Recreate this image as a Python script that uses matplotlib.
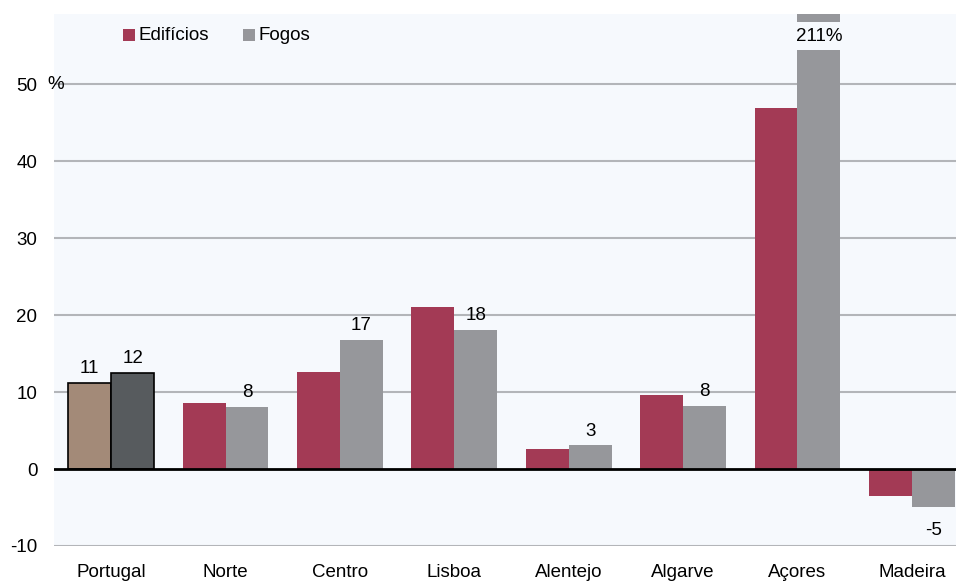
import matplotlib.pyplot as plt
import numpy as np
from matplotlib.patches import Rectangle

plt.rcParams['font.family'] = ['Liberation Sans', 'DejaVu Sans']

regions = ['Portugal', 'Norte', 'Centro', 'Lisboa', 'Alentejo', 'Algarve', 'Açores', 'Madeira']
edificios = [11.2, 8.6, 12.6, 21.0, 2.6, 9.6, 46.9, -3.5]
fogos = [12.5, 8.1, 16.8, 18.1, 3.1, 8.2, 211.0, -4.9]
fogos_labels = ['12', '8', '17', '18', '3', '8', '211%', '-5']
yticks = [-10, 0, 10, 20, 30, 40, 50]

c_edif = '#a33a55'
c_fogos = '#96979b'
bg = '#f6f9fd'
fs = 13.5

fig = plt.figure(figsize=(9.56, 5.81), dpi=100)
ax = fig.add_axes([54 / 956, 35 / 581, 915 / 956, 532 / 581])
ax.set_facecolor(bg)

x = np.arange(len(regions))
w = 0.375
ylo, yhi = -10, 59.1

for y in yticks[2:]:
    ax.axhline(y, color='#b3b5b9', lw=1.5, zorder=0)
ax.axhline(-10, color='#b3b5b9', lw=1.5, zorder=0)

e_cols = ['#a38a78'] + [c_edif] * (len(regions) - 1)
f_cols = ['#575b5e'] + [c_fogos] * (len(regions) - 1)
bars_e = ax.bar(x - w / 2, edificios, w, color=e_cols, zorder=2)
bars_f = ax.bar(x + w / 2, fogos, w, color=f_cols, zorder=2)
for b in (bars_e[0], bars_f[0]):
    b.set_edgecolor('black')
    b.set_linewidth(1.2)

ax.axhline(0, color='black', lw=2, zorder=3)

# labels
ax.text(x[0] - w / 2, edificios[0] + 0.7, '11', ha='center', va='bottom', fontsize=fs)
for i, (v, lab) in enumerate(zip(fogos, fogos_labels)):
    if v > yhi:
        # broken bar
        ax.add_patch(Rectangle((x[i] - 0.01, 54.4), w + 0.02, 3.6,
                               facecolor=bg, edgecolor='none', zorder=4))
        ax.text(x[i] + w / 2, 56.2, lab, ha='center', va='center', fontsize=fs, zorder=5)
    elif v >= 0:
        ax.text(x[i] + w / 2, v + 0.7, lab, ha='center', va='bottom', fontsize=fs)
    else:
        ax.text(x[i] + w / 2, v - 2.0, lab, ha='center', va='top', fontsize=fs)

ax.set_xlim(-0.5, len(regions) - 0.5)
ax.set_ylim(ylo, yhi)
ax.set_yticks(yticks)
ax.set_yticklabels([str(t) for t in yticks], fontsize=fs)
ax.set_xticks(x)
ax.set_xticklabels(regions, fontsize=fs)
ax.tick_params(axis='x', length=0, pad=13)
ax.tick_params(axis='y', length=0, pad=12)
for s in ax.spines.values():
    s.set_visible(False)
ax.text(-0.56, 50, '%', ha='left', va='center', fontsize=fs)

# legend
for xl, col, lab in [(123, c_edif, 'Edifícios'), (243, c_fogos, 'Fogos')]:
    fig.patches.append(Rectangle((xl / 956, 1 - 41 / 581), 12 / 956, 12 / 581,
                                 facecolor=col, edgecolor='none',
                                 transform=fig.transFigure, figure=fig))
    fig.text((xl + 16) / 956, 1 - 35 / 581, lab, fontsize=fs, va='center', ha='left')

fig.savefig('out.png', dpi=100)
